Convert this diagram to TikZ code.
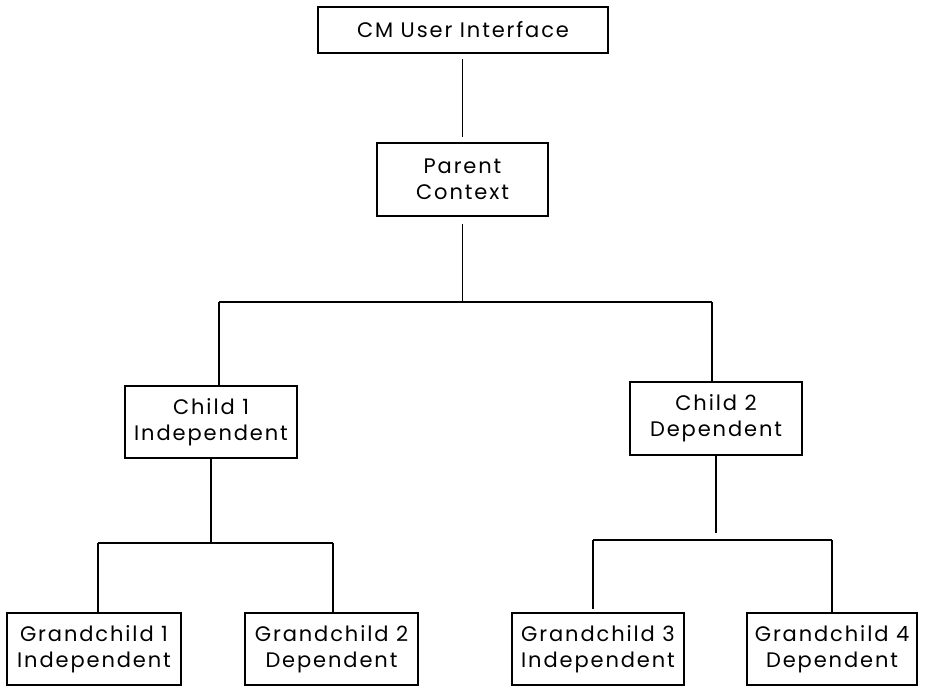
\documentclass[tikz,border=0pt]{standalone}
\usepackage{fontspec}
\setmainfont{Poppins}[LetterSpace=9]
\usetikzlibrary{calc}
\begin{document}
\begin{tikzpicture}[x=1pt,y=-1pt,
  box/.style={draw, line width=1.6pt, rectangle, align=center, inner sep=0pt,
    font=\fontsize{21}{26}\selectfont},
  conn/.style={line width=1.7pt}]
\useasboundingbox (0,0) rectangle (925,686);
\node[box, minimum width=290pt, minimum height=46pt] (ui) at (463,30) {CM User Interface};
\node[box, minimum width=171pt, minimum height=73pt] (parent) at (462.5,179.5) {Parent\\Context};
\node[box, minimum width=172pt, minimum height=72pt] (c1) at (211,422) {Child 1\\Independent};
\node[box, minimum width=172pt, minimum height=73pt] (c2) at (716,418.5) {Child 2\\Dependent};
\node[box, minimum width=174pt, minimum height=72pt] (g1) at (94,649) {Grandchild 1\\Independent};
\node[box, minimum width=173pt, minimum height=72pt] (g2) at (331.5,649) {Grandchild 2\\Dependent};
\node[box, minimum width=172pt, minimum height=72pt] (g3) at (598,649) {Grandchild 3\\Independent};
\node[box, minimum width=170pt, minimum height=72pt] (g4) at (832,649) {Grandchild 4\\Dependent};
% bar coordinates
\coordinate (b1l) at (219,302);
\coordinate (b1r) at (712,302);
\coordinate (b2l) at (98,543);
\coordinate (b2r) at (333,543);
\coordinate (b3l) at (593,540);
\coordinate (b3r) at (832,540);
% connectors
\draw[conn, shorten <=5pt, shorten >=5pt] (ui.south -| parent.north) -- (parent.north);
\draw[conn, shorten <=7pt] (parent.south) -- (parent.south |- b1l);
\draw[conn] (b1l) -- (b1r);
\draw[conn] (b1l) -- (b1l |- c1.north);
\draw[conn] (b1r) -- (b1r |- c2.north);
\draw[conn] (c1.south) -- (c1.south |- b2l);
\draw[conn] (b2l) -- (b2r);
\draw[conn] (b2l) -- (b2l |- g1.north);
\draw[conn] (b2r) -- (b2r |- g2.north);
\draw[conn, shorten >=7pt] (c2.south) -- (c2.south |- b3l);
\draw[conn] (b3l) -- (b3r);
\draw[conn, shorten >=3pt] (b3l) -- (b3l |- g3.north);
\draw[conn] (b3r) -- (b3r |- g4.north);
\end{tikzpicture}
\end{document}
